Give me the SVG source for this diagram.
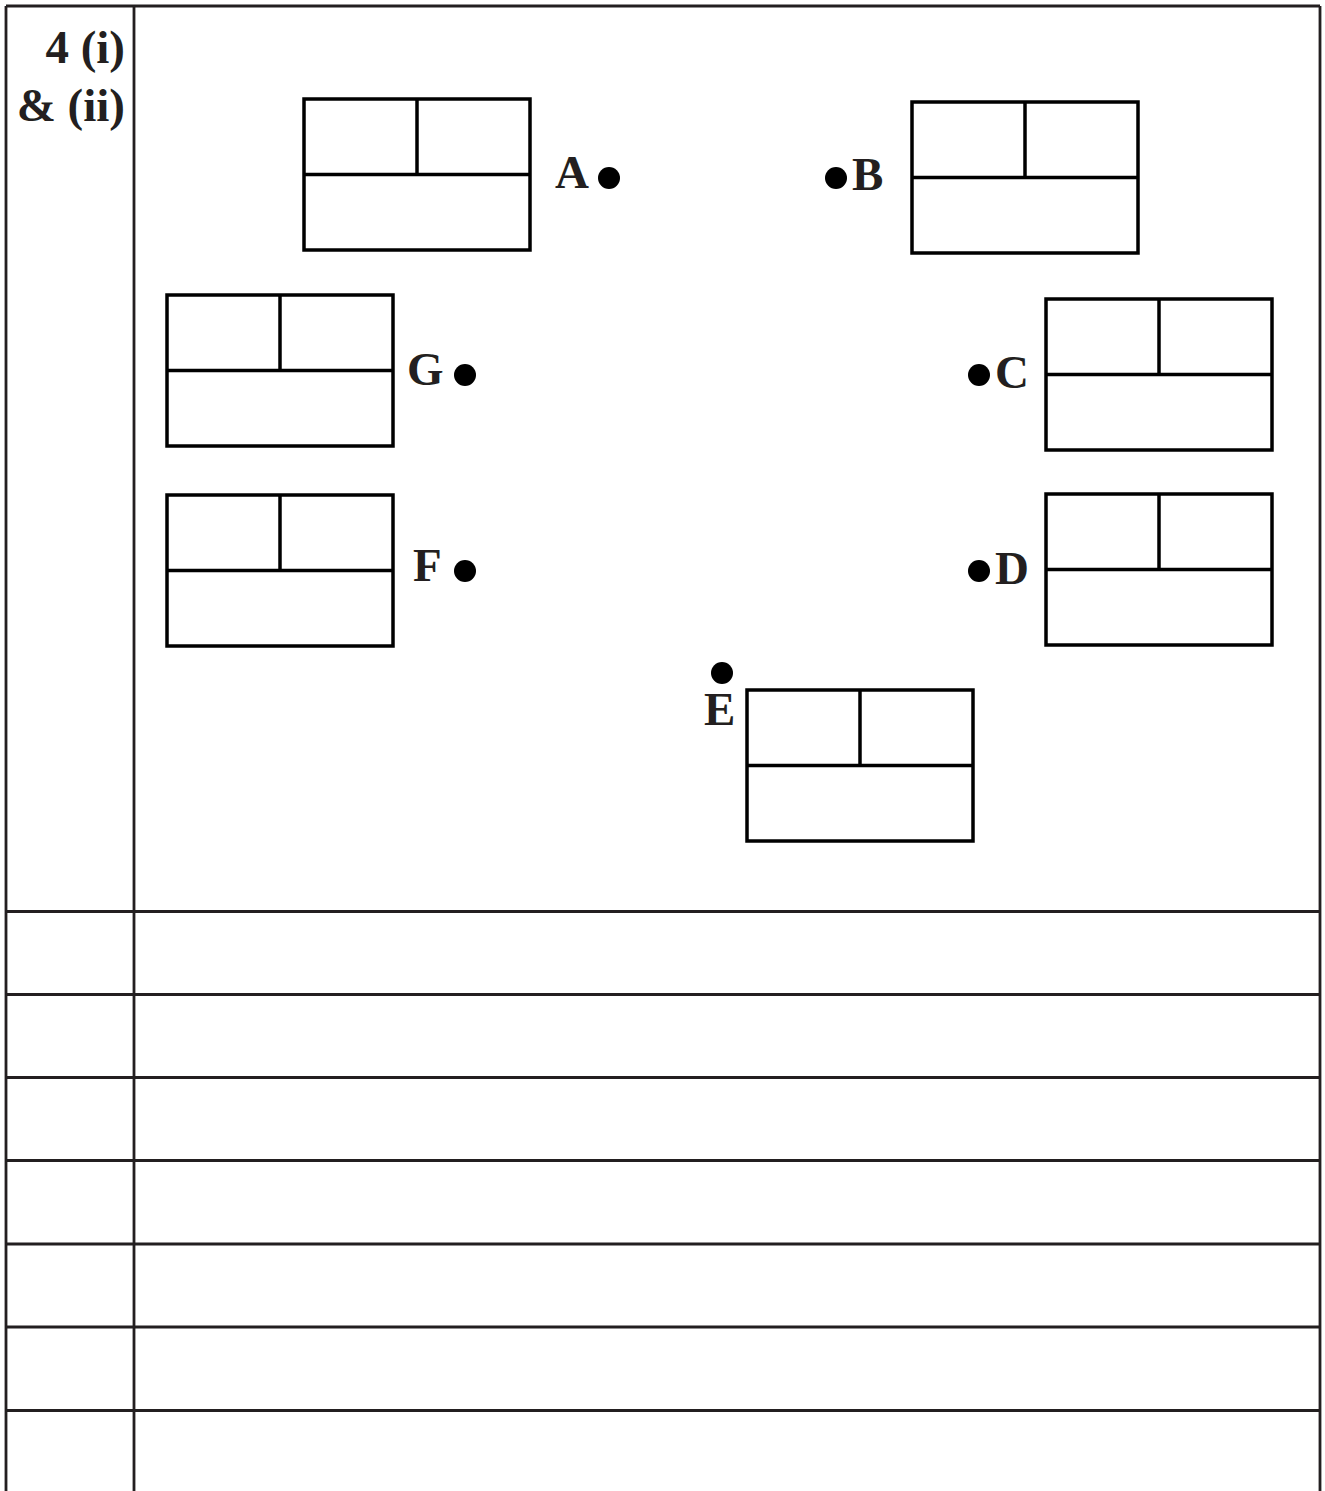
<svg xmlns="http://www.w3.org/2000/svg" width="1325" height="1491" viewBox="0 0 1325 1491">
<style>
.t{font-family:"Liberation Serif","Times New Roman",serif;font-weight:bold;font-size:47px;fill:#231f20}
.grid{stroke:#231f20;stroke-width:2.8;fill:none}
.box{stroke:#000;stroke-width:3.5;fill:none}
.dot{fill:#000}
</style>
<defs>
<g id="bx">
<rect class="box" x="0" y="0" width="226" height="151"/>
<line class="box" x1="0" y1="75.5" x2="226" y2="75.5"/>
<line class="box" x1="113" y1="0" x2="113" y2="75.5"/>
</g>
</defs>
<rect width="1325" height="1491" fill="#fff"/>
<g id="table">
<line class="grid" x1="6" y1="6" x2="1320" y2="6"/>
<line class="grid" x1="6" y1="6" x2="6" y2="1491"/>
<line class="grid" x1="134" y1="6" x2="134" y2="1491"/>
<line class="grid" x1="1320" y1="6" x2="1320" y2="1491"/>
<line class="grid" x1="6" y1="911.5" x2="1320" y2="911.5"/>
<line class="grid" x1="6" y1="994.5" x2="1320" y2="994.5"/>
<line class="grid" x1="6" y1="1077.5" x2="1320" y2="1077.5"/>
<line class="grid" x1="6" y1="1160.5" x2="1320" y2="1160.5"/>
<line class="grid" x1="6" y1="1244" x2="1320" y2="1244"/>
<line class="grid" x1="6" y1="1327" x2="1320" y2="1327"/>
<line class="grid" x1="6" y1="1410.5" x2="1320" y2="1410.5"/>
</g>
<g id="label">
<text class="t" x="125" y="63" text-anchor="end">4 (i)</text>
<text class="t" x="125" y="121" text-anchor="end">&amp; (ii)</text>
</g>
<g id="nodeA">
<use href="#bx" x="304" y="99"/>
<text class="t" x="555" y="188">A</text>
<circle class="dot" cx="609" cy="178" r="11"/>
</g>
<g id="nodeB">
<use href="#bx" x="912" y="102"/>
<circle class="dot" cx="836" cy="178" r="11"/>
<text class="t" x="852" y="190">B</text>
</g>
<g id="nodeC">
<use href="#bx" x="1046" y="299"/>
<circle class="dot" cx="979" cy="375" r="11"/>
<text class="t" x="995" y="388">C</text>
</g>
<g id="nodeD">
<use href="#bx" x="1046" y="494"/>
<circle class="dot" cx="979" cy="571" r="11"/>
<text class="t" x="995" y="584">D</text>
</g>
<g id="nodeE">
<use href="#bx" x="747" y="690"/>
<circle class="dot" cx="722" cy="673" r="11"/>
<text class="t" x="704" y="725">E</text>
</g>
<g id="nodeF">
<use href="#bx" x="167" y="495"/>
<text class="t" x="413" y="581">F</text>
<circle class="dot" cx="465" cy="571" r="11"/>
</g>
<g id="nodeG">
<use href="#bx" x="167" y="295"/>
<text class="t" x="407" y="385">G</text>
<circle class="dot" cx="465" cy="375" r="11"/>
</g>
</svg>
